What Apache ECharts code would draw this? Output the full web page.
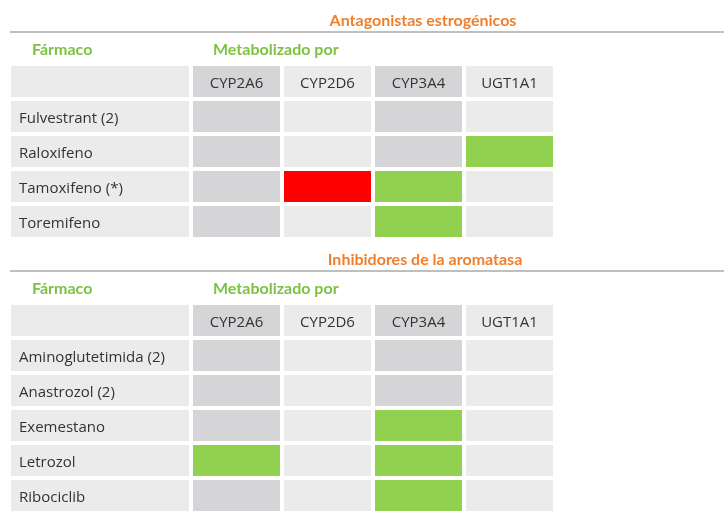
<!DOCTYPE html>
<html><head><meta charset="utf-8">
<script src="https://cdn.jsdelivr.net/npm/echarts@6/dist/echarts.min.js"></script>
<style>html,body{margin:0;padding:0;background:#fff}#c{width:724px;height:516px}</style>
</head><body><div id="c"></div>
<script>
const enzymes = ['CYP2A6','CYP2D6','CYP3A4','UGT1A1'];
const drugs1 = ['Fulvestrant (2)','Raloxifeno','Tamoxifeno (*)','Toremifeno'];
// 0 none, 1 green, 2 red ; columns follow enzymes
const marks1 = [[0,0,0,0],[0,0,0,1],[0,2,1,0],[0,0,1,0]];
const drugs2 = ['Aminoglutetimida (2)','Anastrozol (2)','Exemestano','Letrozol','Ribociclib'];
const marks2 = [[0,0,0,0],[0,0,0,0],[0,0,1,0],[1,0,1,0],[0,0,1,0]];
const sectionTitles = ['Antagonistas estrogénicos','Inhibidores de la aromatasa'];

const FONT = 'Lato, "Noto Sans", sans-serif';
const CFONT = '"Open Sans", "Noto Sans", sans-serif';
const DARK='#d5d5d7', LIGHT='#ebebeb', GREEN='#92d050', RED='#ff0000';
function baseColor(col){ return (col===0||col===2)?DARK:LIGHT; }

function buildData(drugs, marks){
  const d=[];
  d.push({value:[0,0],label:'',color:LIGHT,span:2,align:'left'});
  enzymes.forEach((e,i)=>d.push({value:[i+2,0],label:e,color:baseColor(i),span:1,align:'center'}));
  drugs.forEach((dr,r)=>{
    d.push({value:[0,r+1],label:dr,color:LIGHT,span:2,align:'left'});
    marks[r].forEach((m,i)=>d.push({value:[i+2,r+1],label:'',color:m===1?GREEN:m===2?RED:baseColor(i),span:1,align:'center'}));
  });
  return d;
}
function renderItem(params, api){
  const x=api.value(0), y=api.value(1);
  const item=params.context.items[params.dataIndex];
  const p0=api.coord([x,y]); const sz=api.size([1,1]);
  const w=sz[0]*item.span-4, h=sz[1]-4;
  const left=p0[0]-sz[0]/2, top=p0[1]-sz[1]/2;
  const ch=[{type:'rect',shape:{x:left,y:top,width:w,height:h},style:{fill:item.color}}];
  if(item.label){
    ch.push({type:'text',style:{text:item.label,x:item.align==='left'?left+8:left+w/2,y:top+h/2+2,
      textAlign:item.align,textVerticalAlign:'middle',fill:'#333',font:'15px '+CFONT}});
  }
  return {type:'group',children:ch};
}
const xcats=['','',...enzymes];
function mkSeries(idx,drugs,marks){
  const data=buildData(drugs,marks);
  return {type:'custom',xAxisIndex:idx,yAxisIndex:idx,data:data.map(d=>d.value),
    renderItem:(p,api)=>{p.context.items=data;return renderItem(p,api);}};
}
const rows1=['h',...drugs1], rows2=['h',...drugs2];
const T={color:'#f07f2c',fontSize:16,fontWeight:'bold',fontFamily:FONT};
const G={color:'#7dc243',fontSize:16,fontWeight:'bold',fontFamily:FONT};
const chart=echarts.init(document.getElementById('c'));
chart.setOption({
  animation:false,
  title:[
    {text:sectionTitles[0],left:418,top:8,textAlign:'center',textStyle:T},
    {text:sectionTitles[1],left:420,top:247,textAlign:'center',textStyle:T},
    {text:'Fármaco',left:27,top:37,textStyle:G},
    {text:'Metabolizado por',left:208,top:37,textStyle:G},
    {text:'Fármaco',left:27,top:276,textStyle:G},
    {text:'Metabolizado por',left:208,top:276,textStyle:G}
  ],
  graphic:[
    {type:'line',shape:{x1:10,y1:32,x2:724,y2:32},style:{stroke:'#aaa',lineWidth:1.5}},
    {type:'line',shape:{x1:10,y1:271,x2:724,y2:271},style:{stroke:'#aaa',lineWidth:1.5}}
  ],
  grid:[
    {left:11,top:66,width:546,height:175},
    {left:11,top:305,width:546,height:210}
  ],
  xAxis:[0,1].map(i=>({type:'category',gridIndex:i,data:xcats,show:false})),
  yAxis:[
    {type:'category',gridIndex:0,data:rows1,inverse:true,show:false},
    {type:'category',gridIndex:1,data:rows2,inverse:true,show:false}
  ],
  series:[mkSeries(0,drugs1,marks1),mkSeries(1,drugs2,marks2)]
});
</script></body></html>
